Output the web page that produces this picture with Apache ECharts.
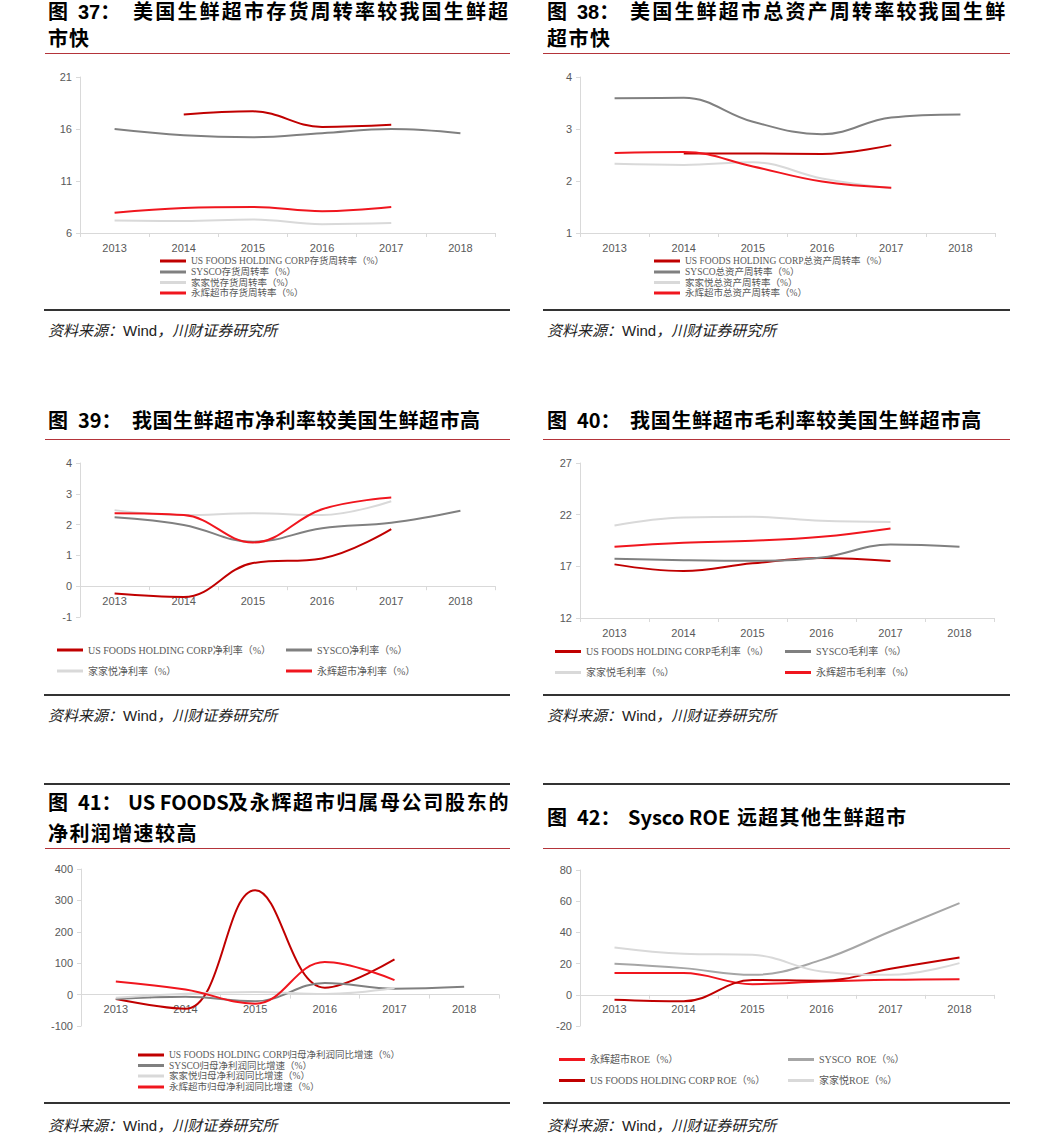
<!DOCTYPE html>
<html><head><meta charset="utf-8">
<script src="https://cdn.jsdelivr.net/npm/echarts@6/dist/echarts.min.js"></script>
<style>
html,body{margin:0;padding:0;background:#fff;}
#wrap{position:relative;width:1046px;height:1137px;overflow:hidden;background:#fff;}
#chart{position:absolute;left:0;top:0;width:1046px;height:1137px;}
.t{position:absolute;font-family:"Noto Sans CJK SC";font-weight:700;font-size:20px;line-height:20px;color:#000;white-space:nowrap;}
.t.top{font-family:"Liberation Sans","Noto Sans CJK SC";line-height:20px;top:2px;}
.rule{position:absolute;height:1px;background:#b4343a;}
.brule{position:absolute;height:2px;background:#333;}
.src{position:absolute;font-family:"Noto Sans CJK SC";font-style:italic;font-size:15px;line-height:15px;color:#222;white-space:nowrap;}
.src b{font-family:"Liberation Sans";font-weight:400;font-style:normal;}
</style></head>
<body><div id="wrap">
<div id="chart"></div>

<div class="t top" style="left:48px">图</div>
<div class="t top" style="left:78px">37：</div>
<div class="t top" style="left:133px;letter-spacing:2.2px">美国生鲜超市存货周转率较我国生鲜超</div>
<div class="t" style="left:48px;top:28px;letter-spacing:1px">市快</div>
<div class="rule" style="left:45px;top:53px;width:465px"></div>

<div class="t top" style="left:547px">图</div>
<div class="t top" style="left:577px">38：</div>
<div class="t top" style="left:630px;letter-spacing:2.2px">美国生鲜超市总资产周转率较我国生鲜</div>
<div class="t" style="left:547px;top:28px;letter-spacing:1.5px">超市快</div>
<div class="rule" style="left:543px;top:53px;width:467px"></div>

<div class="brule" style="left:44px;top:309px;width:466px"></div>
<div class="brule" style="left:543px;top:309px;width:467px"></div>
<div class="src" style="left:48px;top:322px">资料来源：<b>Wind</b>，川财证券研究所</div>
<div class="src" style="left:547px;top:322px">资料来源：<b>Wind</b>，川财证券研究所</div>

<div class="t" style="left:48px;top:410px">图</div>
<div class="t" style="left:78px;top:410px">39：</div>
<div class="t" style="left:132px;top:410px;letter-spacing:0.5px">我国生鲜超市净利率较美国生鲜超市高</div>
<div class="rule" style="left:45px;top:439px;width:465px"></div>

<div class="t" style="left:547px;top:410px">图</div>
<div class="t" style="left:577px;top:410px">40：</div>
<div class="t" style="left:630px;top:410px;letter-spacing:0.7px">我国生鲜超市毛利率较美国生鲜超市高</div>
<div class="rule" style="left:543px;top:439px;width:467px"></div>

<div class="brule" style="left:44px;top:694px;width:466px"></div>
<div class="brule" style="left:543px;top:694px;width:467px"></div>
<div class="src" style="left:48px;top:707px">资料来源：<b>Wind</b>，川财证券研究所</div>
<div class="src" style="left:547px;top:707px">资料来源：<b>Wind</b>，川财证券研究所</div>

<div class="brule" style="left:44px;top:783px;width:466px;height:1.5px"></div>
<div class="brule" style="left:543px;top:783px;width:467px;height:1.5px"></div>

<div class="t" style="left:48px;top:792px">图</div>
<div class="t" style="left:78px;top:792px">41：</div>
<div class="t" style="left:128px;top:792px">US FOODS</div>
<div class="t" style="left:228px;top:792px;letter-spacing:1.7px">及永辉超市归属母公司股东的</div>
<div class="t" style="left:48px;top:823px;letter-spacing:1.4px">净利润增速较高</div>
<div class="rule" style="left:45px;top:848px;width:465px"></div>

<div class="t" style="left:547px;top:807px">图</div>
<div class="t" style="left:577px;top:807px">42：</div>
<div class="t" style="left:628px;top:807px">Sysco ROE</div>
<div class="t" style="left:737px;top:807px;letter-spacing:1.3px">远超其他生鲜超市</div>
<div class="rule" style="left:543px;top:848px;width:467px"></div>

<div class="brule" style="left:44px;top:1102px;width:466px"></div>
<div class="brule" style="left:543px;top:1102px;width:467px"></div>
<div class="src" style="left:48px;top:1117px">资料来源：<b>Wind</b>，川财证券研究所</div>
<div class="src" style="left:547px;top:1117px">资料来源：<b>Wind</b>，川财证券研究所</div>
</div>

<script>
// ---------- data ----------
const years = ['2013', '2014', '2015', '2016', '2017', '2018'];

// Fig 37 inventory turnover
const invUSF   = [null, 17.4, 17.7, 16.2, 16.4, null];
const invSysco = [16.0, 15.4, 15.2, 15.6, 16.0, 15.6];
const invJJY   = [7.2, 7.15, 7.3, 6.85, 6.95, null];
const invYH    = [7.95, 8.4, 8.5, 8.1, 8.5, null];
const ticks37  = [6, 11, 16, 21];

// Fig 38 total asset turnover
const taUSF   = [null, 2.53, 2.53, 2.52, 2.69, null];
const taSysco = [3.59, 3.6, 3.14, 2.9, 3.22, 3.28];
const taJJY   = [2.33, 2.31, 2.36, 2.05, 1.86, null];
const taYH    = [2.54, 2.56, 2.28, 1.99, 1.87, null];
const ticks38 = [1, 2, 3, 4];

// Fig 39 net margin
const nmUSF   = [-0.24, -0.35, 0.75, 0.9, 1.85, null];
const nmSysco = [2.24, 1.99, 1.44, 1.88, 2.06, 2.45];
const nmJJY   = [2.47, 2.31, 2.37, 2.31, 2.76, null];
const nmYH    = [2.37, 2.31, 1.42, 2.5, 2.88, null];
const ticks39 = [-1, 0, 1, 2, 3, 4];

// Fig 40 gross margin
const gmUSF   = [17.19, 16.55, 17.29, 17.8, 17.51, null];
const gmSysco = [17.73, 17.6, 17.54, 17.85, 19.12, 18.9];
const gmJJY   = [20.96, 21.73, 21.79, 21.4, 21.3, null];
const gmYH    = [18.9, 19.28, 19.47, 19.86, 20.67, null];
const ticks40 = [12, 17, 22, 27];

// Fig 41 net profit growth
const npUSF   = [-14, -45, 332, 22, 112, null];
const npSysco = [-14, -7, -21, 37, 19, 25];
const npJJY   = [-10, 3, 8, 2, 21, null];
const npYH    = [42, 16, -29, 104, 46, null];
const ticks41 = [-100, 0, 100, 200, 300, 400];

// Fig 42 ROE
const roeYH    = [13.9, 13.9, 6.8, 8.5, 9.6, 10.0];
const roeUSF   = [-3.2, -4.2, 9.5, 9.0, 16.7, 23.9];
const roeSysco = [19.9, 17.1, 12.8, 22.4, 40.6, 58.8];
const roeJJY   = [30.3, 26.3, 25.6, 14.9, 12.8, 20.3];
const ticks42  = [-20, 0, 20, 40, 60, 80];

// ---------- styles ----------
const DARK = '#c00000', RED = '#f0161e', GRAY = '#808080', LIGHT = '#d9d9d9', MID = '#a6a6a6';

const panels = [
  { grid: {left: 80, top: 77, width: 415, height: 156}, ticks: ticks37, fs: 9.5,
    series: [
      {name: 'US FOODS HOLDING CORP存货周转率（%）', data: invUSF, color: DARK, lx: 160, ly: 261},
      {name: 'SYSCO存货周转率（%）', data: invSysco, color: GRAY, lx: 160, ly: 272},
      {name: '家家悦存货周转率（%）', data: invJJY, color: LIGHT, lx: 160, ly: 282.5},
      {name: '永辉超市存货周转率（%）', data: invYH, color: RED, lx: 160, ly: 293}
    ]},
  { grid: {left: 580, top: 77, width: 415, height: 156}, ticks: ticks38, fs: 9.5,
    series: [
      {name: 'US FOODS HOLDING CORP总资产周转率（%）', data: taUSF, color: DARK, lx: 654, ly: 261},
      {name: 'SYSCO总资产周转率（%）', data: taSysco, color: GRAY, lx: 654, ly: 272},
      {name: '家家悦总资产周转率（%）', data: taJJY, color: LIGHT, lx: 654, ly: 282.5},
      {name: '永辉超市总资产周转率（%）', data: taYH, color: RED, lx: 654, ly: 293}
    ]},
  { grid: {left: 80, top: 463, width: 415, height: 154}, ticks: ticks39, fs: 10,
    series: [
      {name: 'US FOODS HOLDING CORP净利率（%）', data: nmUSF, color: DARK, lx: 57, ly: 650},
      {name: 'SYSCO净利率（%）', data: nmSysco, color: GRAY, lx: 286, ly: 650},
      {name: '家家悦净利率（%）', data: nmJJY, color: LIGHT, lx: 57, ly: 671},
      {name: '永辉超市净利率（%）', data: nmYH, color: RED, lx: 286, ly: 671}
    ]},
  { grid: {left: 580, top: 463, width: 414, height: 155}, ticks: ticks40, fs: 10,
    series: [
      {name: 'US FOODS HOLDING CORP毛利率（%）', data: gmUSF, color: DARK, lx: 555, ly: 651.5},
      {name: 'SYSCO毛利率（%）', data: gmSysco, color: GRAY, lx: 785, ly: 651.5},
      {name: '家家悦毛利率（%）', data: gmJJY, color: LIGHT, lx: 555, ly: 672.5},
      {name: '永辉超市毛利率（%）', data: gmYH, color: RED, lx: 785, ly: 672.5}
    ]},
  { grid: {left: 81, top: 869, width: 418, height: 157}, ticks: ticks41, fs: 9.5,
    series: [
      {name: 'US FOODS HOLDING CORP归母净利润同比增速（%）', data: npUSF, color: DARK, lx: 138, ly: 1055},
      {name: 'SYSCO归母净利润同比增速（%）', data: npSysco, color: GRAY, lx: 138, ly: 1065.5},
      {name: '家家悦归母净利润同比增速（%）', data: npJJY, color: LIGHT, lx: 138, ly: 1076},
      {name: '永辉超市归母净利润同比增速（%）', data: npYH, color: RED, lx: 138, ly: 1087}
    ]},
  { grid: {left: 580, top: 870, width: 414, height: 156}, ticks: ticks42, fs: 10,
    series: [
      {name: '永辉超市ROE（%）', data: roeYH, color: RED, lx: 559, ly: 1059.5},
      {name: 'US FOODS HOLDING CORP ROE（%）', data: roeUSF, color: DARK, lx: 559, ly: 1080.5},
      {name: 'SYSCO  ROE（%）', data: roeSysco, color: MID, lx: 788, ly: 1059.5},
      {name: '家家悦ROE（%）', data: roeJJY, color: LIGHT, lx: 788, ly: 1080.5}
    ]}
];

const option = {animation: false, grid: [], xAxis: [], yAxis: [], legend: [], series: []};
const axisColor = '#d9d9d9';
panels.forEach((p, i) => {
  const ymin = p.ticks[0], ymax = p.ticks[p.ticks.length - 1];
  // place the category axis at the value-axis zero line when zero is inside the range
  const zeroOffset = (ymin < 0 && ymax > 0) ? -p.grid.height * (0 - ymin) / (ymax - ymin) : 0;
  option.grid.push(Object.assign({containLabel: false}, p.grid));
  option.xAxis.push({
    type: 'category', gridIndex: i, data: years, boundaryGap: true, position: 'bottom',
    offset: zeroOffset,
    axisLine: {show: true, onZero: false, lineStyle: {color: axisColor, width: 1}},
    axisTick: {show: true, length: 4, lineStyle: {color: axisColor}},
    axisLabel: {color: '#595959', fontSize: 11, margin: 9, fontFamily: 'Liberation Sans'},
    splitLine: {show: false}
  });
  option.yAxis.push({
    type: 'value', gridIndex: i, min: ymin, max: ymax,
    axisLine: {show: true, lineStyle: {color: axisColor, width: 1}},
    axisTick: {show: true, length: 4, lineStyle: {color: axisColor}, customValues: p.ticks},
    axisLabel: {color: '#595959', fontSize: 11, margin: 8, fontFamily: 'Liberation Sans', customValues: p.ticks},
    splitLine: {show: false}
  });
  p.series.forEach(s => {
    option.series.push({
      type: 'line', name: s.name, xAxisIndex: i, yAxisIndex: i, data: s.data,
      smooth: 0.4, showSymbol: false, symbol: 'none', connectNulls: false,
      itemStyle: {color: s.color}, lineStyle: {color: s.color, width: 2}
    });
    option.legend.push({
      data: [s.name], left: s.lx, top: s.ly - 6, padding: 0, itemGap: 0,
      itemWidth: 26, itemHeight: 3, icon: 'rect', selectedMode: false,
      textStyle: {fontSize: p.fs, lineHeight: 12, color: '#595959', fontFamily: '"Liberation Serif", "Noto Sans CJK SC"'}
    });
  });
});

const chart = echarts.init(document.getElementById('chart'), null, {renderer: 'svg'});
chart.setOption(option);
</script>
</body></html>
